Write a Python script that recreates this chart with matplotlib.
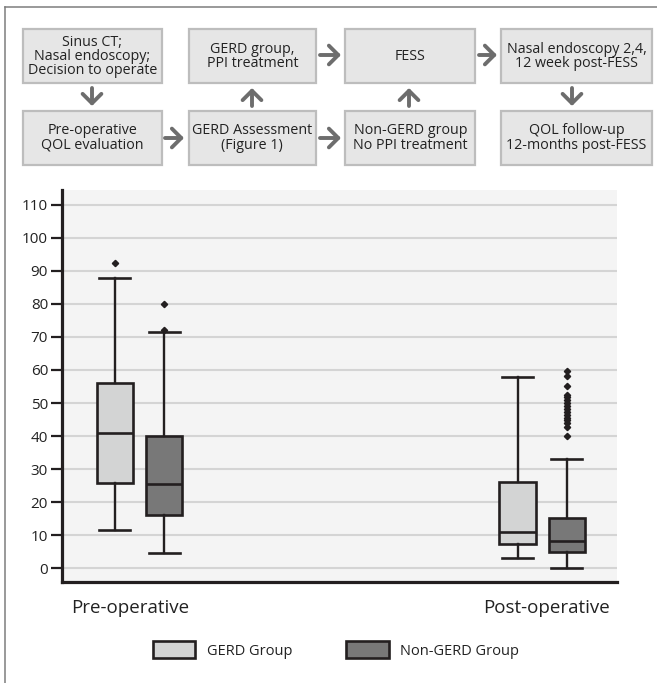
import matplotlib.pyplot as plt
from matplotlib.patches import Rectangle, FancyArrowPatch, Patch
from matplotlib.transforms import ScaledTranslation

plt.rcParams['font.family'] = ['Open Sans', 'DejaVu Sans']

# box plot values (QOL score)
groups = ['Pre-operative', 'Post-operative']
series = ['GERD Group', 'Non-GERD Group']
gerd_q1 = [25.8, 7.3]
gerd_med = [41.0, 10.8]
gerd_q3 = [56.0, 26.2]
gerd_lo = [11.5, 3.1]
gerd_hi = [88.0, 57.8]
gerd_out = [[92.3], []]
non_q1 = [16.2, 4.9]
non_med = [25.4, 8.3]
non_q3 = [40.0, 15.2]
non_lo = [4.7, 0.1]
non_hi = [71.5, 32.9]
non_out = [[72.0, 80.0],
           [40.0, 42.8, 43.8, 44.8, 45.6, 46.5, 47.4, 48.3, 49.2, 50.1,
            51.0, 51.8, 52.5, 55.2, 58.3, 59.6]]
yticks = list(range(0, 111, 10))

# flow chart text
flow_top = ['Sinus CT;\nNasal endoscopy;\nDecision to operate', 'GERD group,\nPPI treatment',
            'FESS', 'Nasal endoscopy 2,4,\n12 week post-FESS']
flow_bottom = ['Pre-operative\nQOL evaluation', 'GERD Assessment\n(Figure 1)',
               'Non-GERD group\nNo PPI treatment', 'QOL follow-up\n12-months post-FESS']

light = '#d3d4d4'
dark = '#787878'
ink = '#231f20'

W, H = 657, 683
fig = plt.figure(figsize=(W / 100, H / 100), dpi=100)

# ---- box plot ----
ax = fig.add_axes([62 / W, 1 - 582 / H, 555 / W, 392 / H])
ax.set_facecolor('#f4f4f4')
off = 0.061
stats_g, stats_n = [], []
for i in range(len(groups)):
    stats_g.append(dict(q1=gerd_q1[i], med=gerd_med[i], q3=gerd_q3[i],
                        whislo=gerd_lo[i], whishi=gerd_hi[i], fliers=gerd_out[i]))
    stats_n.append(dict(q1=non_q1[i], med=non_med[i], q3=non_q3[i],
                        whislo=non_lo[i], whishi=non_hi[i], fliers=non_out[i]))

common = dict(widths=0.09, capwidths=0.077, patch_artist=True, manage_ticks=False,
              medianprops=dict(color=ink, lw=1.9),
              whiskerprops=dict(color=ink, lw=1.7),
              capprops=dict(color=ink, lw=1.9),
              flierprops=dict(marker='D', markersize=3.2, markerfacecolor=ink,
                              markeredgecolor=ink))
ax.bxp(stats_g, positions=[i - off for i in range(len(groups))],
       boxprops=dict(facecolor=light, edgecolor=ink, lw=1.9), **common)
ax.bxp(stats_n, positions=[i + off for i in range(len(groups))],
       boxprops=dict(facecolor=dark, edgecolor=ink, lw=1.9), **common)

ax.set_xlim(-0.1925, 1.186)
ax.set_ylim(-4.2, 114.5)
ax.set_yticks(yticks)
ax.yaxis.grid(True, color='#d4d4d4', lw=1.5)
ax.set_axisbelow(True)
ax.set_xticks(range(len(groups)))
ax.set_xticklabels(groups, fontsize=13.5)
ax.tick_params(axis='x', length=0, pad=12, colors='#222222')
ax.tick_params(axis='y', length=8, width=1.6, color=ink, labelsize=11, pad=2,
               labelcolor='#222222')
# nudge the group labels to where the original puts them
for lbl, dx in zip(ax.get_xticklabels(), [-9, 4]):
    lbl.set_transform(lbl.get_transform() + ScaledTranslation(dx / 100, 0, fig.dpi_scale_trans))
for s in ['top', 'right']:
    ax.spines[s].set_visible(False)
for s in ['left', 'bottom']:
    ax.spines[s].set_linewidth(2.3)
    ax.spines[s].set_color(ink)
    ax.spines[s].set_capstyle('projecting')

fig.legend(handles=[Patch(facecolor=light, edgecolor=ink, lw=1.9, label=series[0]),
                    Patch(facecolor=dark, edgecolor=ink, lw=1.9, label=series[1])],
           loc='center', bbox_to_anchor=(336 / W, 1 - 650 / H), ncol=2, frameon=False,
           fontsize=10.5, handlelength=2.9, handleheight=1.4, handletextpad=0.8,
           columnspacing=3.7, labelcolor='#222222')

# ---- flow chart, drawn in pixel space ----
ov = fig.add_axes([0, 0, 1, 1])
ov.set_xlim(0, W)
ov.set_ylim(H, 0)
ov.axis('off')

cols = [(22.7, 162.3), (189, 315.7), (345.3, 475.3), (501, 652)]
rows = [(29.3, 83.3), (111, 165)]
for r, texts in zip(rows, [flow_top, flow_bottom]):
    for c, t in zip(cols, texts):
        ov.add_patch(Rectangle((c[0], r[0]), c[1] - c[0], r[1] - r[0],
                               facecolor='#e6e6e6', edgecolor='#bdbdbd', lw=1.6))
        ov.text((c[0] + c[1]) / 2, (r[0] + r[1]) / 2, t, ha='center', va='center',
                fontsize=10.3, color='#222222', linespacing=0.92)

arrows = [((92, 88), (92, 106)), ((252, 106), (252, 88)), ((409, 106), (409, 88)),
          ((572, 88), (572, 106)), ((320, 55), (341, 55)), ((479, 55), (497, 55)),
          ((165, 138), (184, 138)), ((320, 138), (341, 138))]
for a, b in arrows:
    ov.add_patch(FancyArrowPatch(a, b, arrowstyle='->,head_length=0.45,head_width=0.45',
                                 mutation_scale=15, lw=2.8, color='#6d6d6d',
                                 shrinkA=0, shrinkB=0))

# outer frame (top and left edges only)
ov.plot([5, W], [7, 7], color='#7d7d7d', lw=1.1)
ov.plot([5, 5], [7, H], color='#7d7d7d', lw=1.1)

fig.savefig('out.png', dpi=100)
